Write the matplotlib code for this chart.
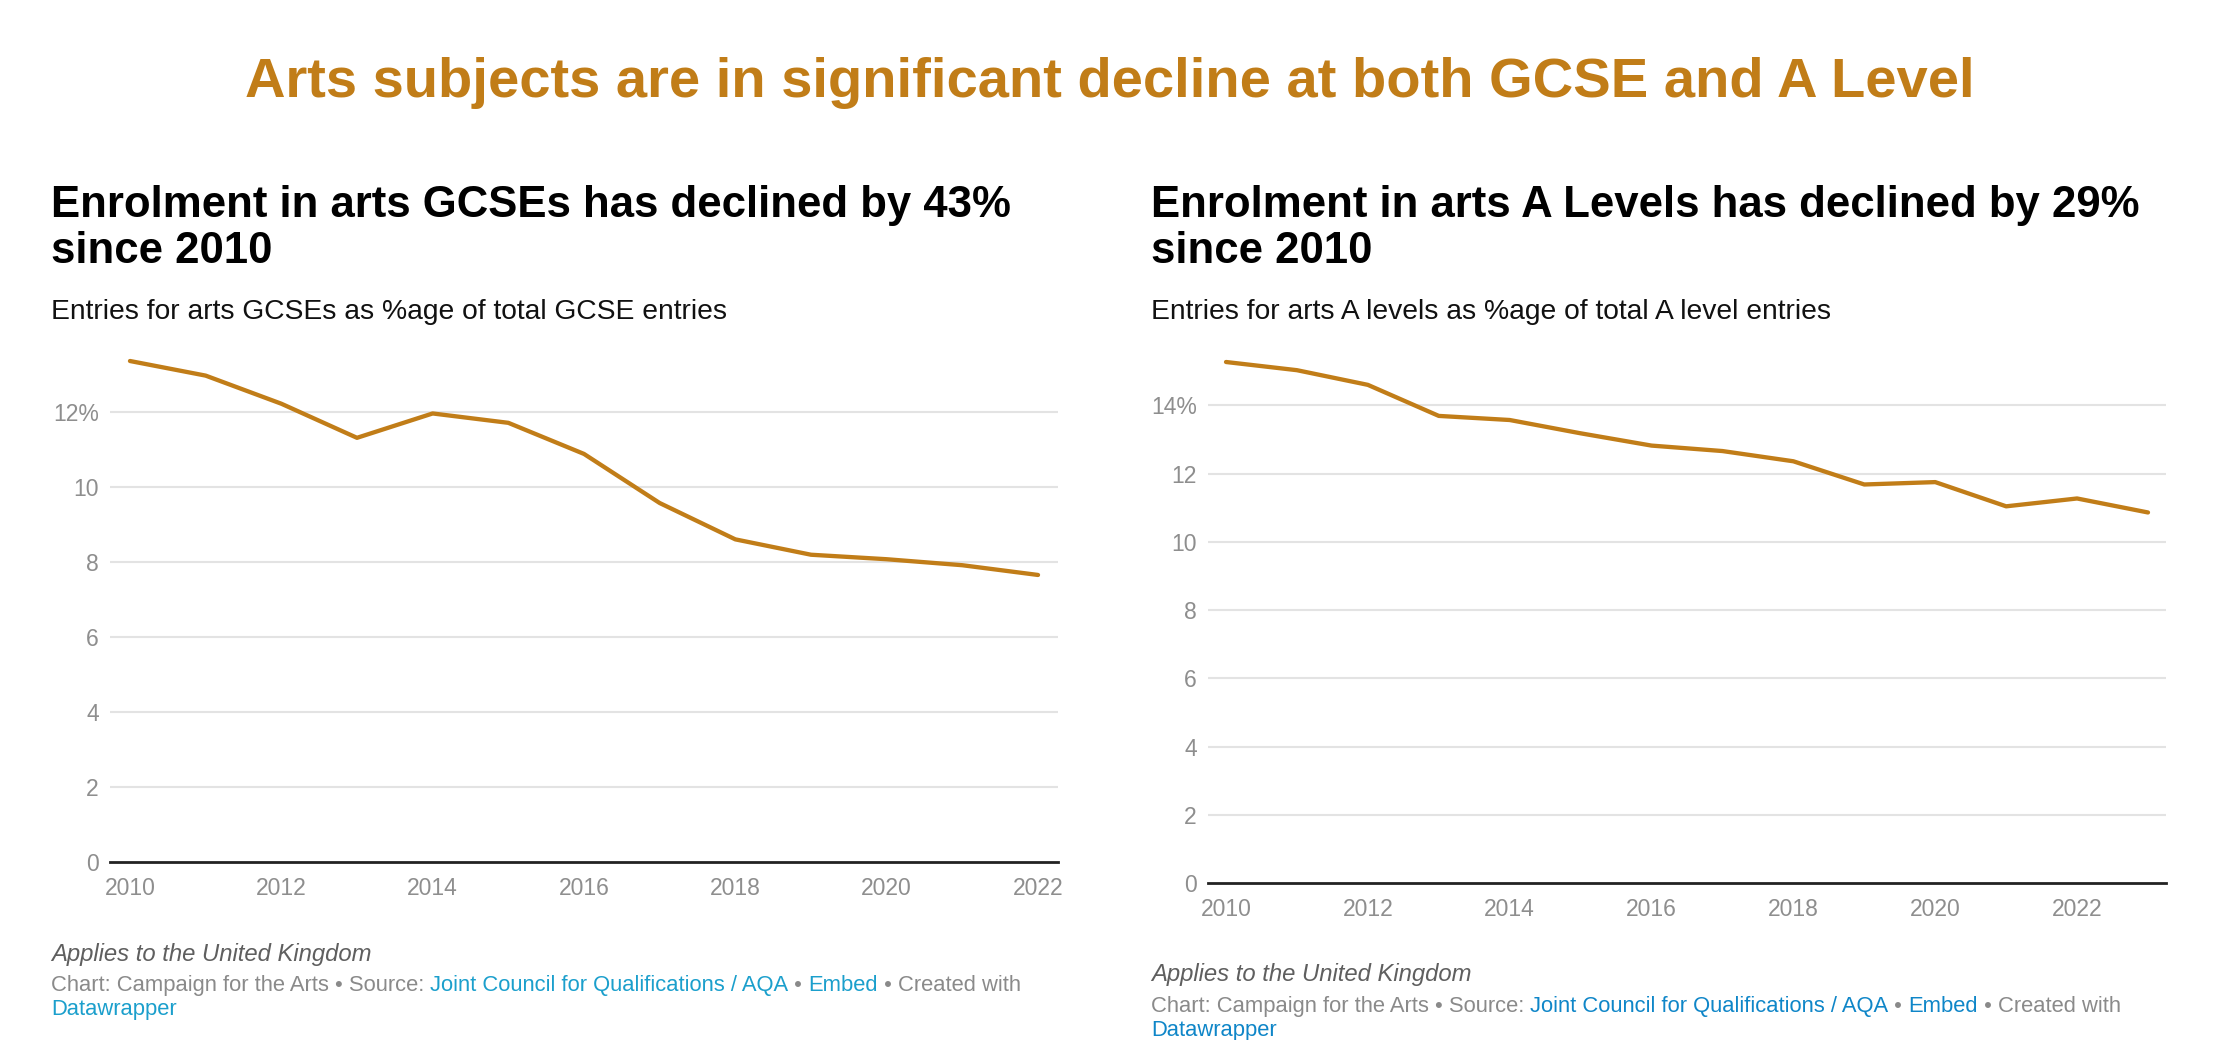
import matplotlib
matplotlib.use("Agg")
import matplotlib.pyplot as plt

plt.rcParams['font.family'] = ['Liberation Sans', 'DejaVu Sans']

# data
gcse_years = [2010, 2011, 2012, 2013, 2014, 2015, 2016, 2017, 2018, 2019, 2020, 2021, 2022]
gcse_share = [13.37, 12.98, 12.23, 11.32, 11.97, 11.72, 10.89, 9.58, 8.61, 8.20, 8.08, 7.92, 7.66]

alevel_years = [2010, 2011, 2012, 2013, 2014, 2015, 2016, 2017, 2018, 2019, 2020, 2021, 2022, 2023]
alevel_share = [15.27, 15.03, 14.60, 13.69, 13.57, 13.18, 12.82, 12.66, 12.36, 11.68, 11.75, 11.04, 11.27, 10.86]

gcse_yticks = [0, 2, 4, 6, 8, 10, 12]
gcse_ylabels = ['0', '2', '4', '6', '8', '10', '12%']
alevel_yticks = [0, 2, 4, 6, 8, 10, 12, 14]
alevel_ylabels = ['0', '2', '4', '6', '8', '10', '12', '14%']
xticks = [2010, 2012, 2014, 2016, 2018, 2020, 2022]

main_title = 'Arts subjects are in significant decline at both GCSE and A Level'
gcse_title = ['Enrolment in arts GCSEs has declined by 43%', 'since 2010']
gcse_sub = 'Entries for arts GCSEs as %age of total GCSE entries'
alevel_title = ['Enrolment in arts A Levels has declined by 29%', 'since 2010']
alevel_sub = 'Entries for arts A levels as %age of total A level entries'

W, H = 2220, 1040
GOLD = '#c17d18'
GRID = '#e3e3e3'
TICK = '#8e8e8e'
FOOT = '#8a8a8a'

fig = plt.figure(figsize=(W / 100, H / 100), dpi=100)


def fx(px):
    return px / W


def fy(py):
    return 1 - py / H


def make_panel(rect, years, vals, yticks, ylabels, xlim, ylim):
    ax = fig.add_axes(rect)
    ax.plot(years, vals, color=GOLD, lw=3.1, solid_capstyle='round', clip_on=False, zorder=3)
    ax.set_xlim(*xlim)
    ax.set_ylim(*ylim)
    ax.set_yticks(yticks)
    ax.set_yticklabels(ylabels)
    ax.set_xticks(xticks)
    for y in yticks[1:]:
        ax.axhline(y, color=GRID, lw=1.5, zorder=1)
    ax.axhline(0, color='#222222', lw=2, zorder=2, clip_on=False)
    for s in ax.spines.values():
        s.set_visible(False)
    ax.tick_params(axis='both', length=0, labelsize=16.5, colors=TICK)
    ax.tick_params(axis='y', pad=8)
    ax.tick_params(axis='x', pad=11)
    return ax


# left panel: axes 110..1058 px, baseline at 862, top at 361
make_panel([fx(110), 1 - 862 / H, fx(1058 - 110), (862 - 361) / H],
           gcse_years, gcse_share, gcse_yticks, gcse_ylabels,
           (2009.736, 2022.264), (0, max(gcse_share)))

# right panel: axes 1208..2166 px, baseline at 883, top at 362
make_panel([fx(1208), 1 - 883 / H, fx(2166 - 1208), (883 - 362) / H],
           alevel_years, alevel_share, alevel_yticks, alevel_ylabels,
           (2009.746, 2023.254), (0, max(alevel_share)))

fig.text(0.5, fy(97), main_title, ha='center', va='baseline',
         fontsize=40.4, fontweight='bold', color=GOLD)

for x0, title, sub in [(51, gcse_title, gcse_sub), (1151, alevel_title, alevel_sub)]:
    fig.text(fx(x0), fy(217), title[0], ha='left', va='baseline', fontsize=31.5,
             fontweight='bold', color='black')
    fig.text(fx(x0), fy(263), title[1], ha='left', va='baseline', fontsize=31.5,
             fontweight='bold', color='black')
    fig.text(fx(x0), fy(319), sub, ha='left', va='baseline', fontsize=20.3, color='#111111')

renderer = fig.canvas.get_renderer()


def run_line(x0, y0, parts, size):
    x = fx(x0)
    for txt, col in parts:
        t = fig.text(x, y0, txt, ha='left', va='baseline', fontsize=size, color=col)
        bb = t.get_window_extent(renderer=renderer)
        x += bb.width / W


def footer(x0, y_applies, y_chart, y_dw, blue):
    fig.text(fx(x0), fy(y_applies), 'Applies to the United Kingdom', ha='left', va='baseline',
             fontsize=17.2, style='italic', color='#5f5f5f')
    run_line(x0, fy(y_chart), [
        ('Chart: Campaign for the Arts • Source: ', FOOT),
        ('Joint Council for Qualifications / AQA', blue),
        (' • ', FOOT),
        ('Embed', blue),
        (' • Created with', FOOT),
    ], 15.8)
    fig.text(fx(x0), fy(y_dw), 'Datawrapper', ha='left', va='baseline', fontsize=15.8, color=blue)


footer(51, 961, 991, 1015, '#1b9fcc')
footer(1151, 981, 1012, 1036, '#0f86c8')

fig.savefig('out.png', dpi=100, facecolor='white')
